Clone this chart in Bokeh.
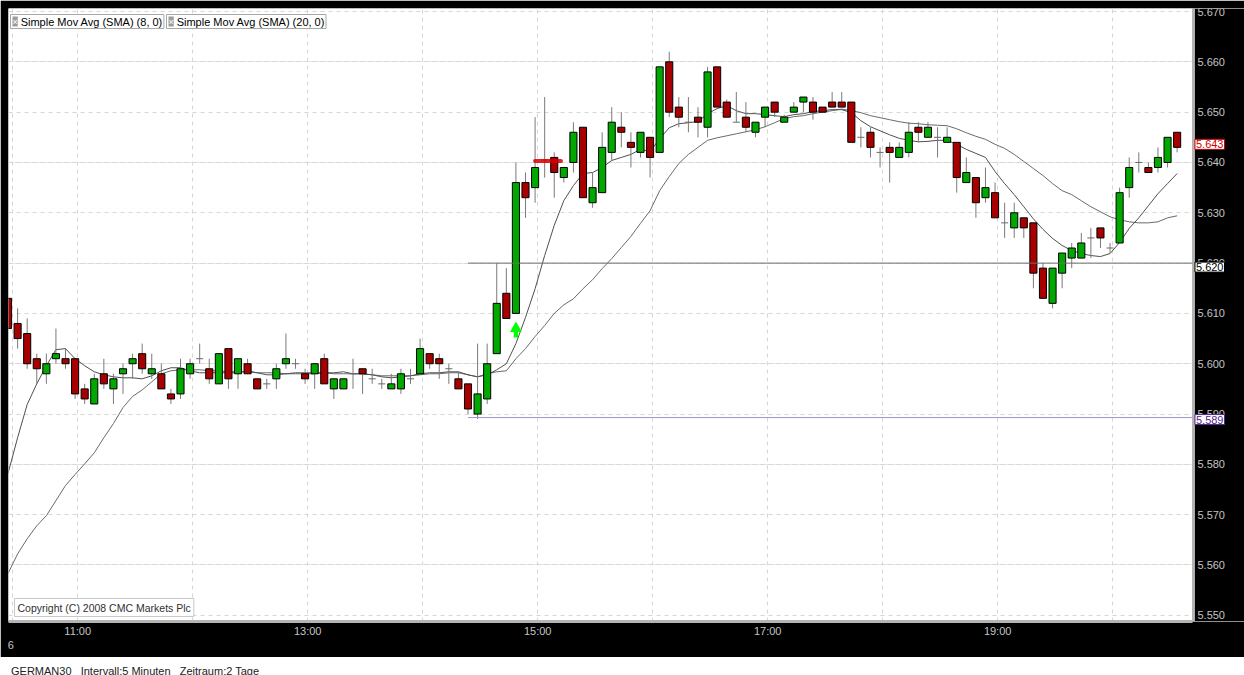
import numpy as np
from bokeh.plotting import figure
from bokeh.models import (ColumnDataSource, FixedTicker, CustomJSTickFormatter, Label,
                          Range1d, Div, Grid, BoxAnnotation)
from bokeh.layouts import column
from bokeh.embed import file_html
from bokeh.resources import INLINE

# ---------------- data (GERMAN30, 5-minute candles) ----------------
open_ = [5613, 5608, 5606, 5601, 5598, 5601, 5601, 5601, 5595, 5592,
         5598, 5595, 5598, 5600, 5602, 5598, 5598, 5594, 5594, 5598,
         5601, 5599, 5596, 5603, 5598, 5600, 5597, 5596, 5597, 5600,
         5600, 5598, 5598, 5601, 5595, 5595, 5598, 5599, 5597, 5596,
         5595, 5595, 5597, 5598, 5602, 5601, 5599, 5597, 5596, 5590,
         5593, 5602, 5614, 5610, 5636, 5635, 5640.5, 5641, 5637, 5640,
         5647, 5632, 5634, 5642, 5647, 5644, 5642, 5645, 5642, 5660,
         5651, 5648, 5649, 5647, 5659, 5652, 5648, 5649, 5646, 5649,
         5652, 5648, 5650, 5652, 5652, 5651, 5652, 5652, 5652, 5645,
         5646, 5642, 5643, 5641, 5642, 5647, 5645, 5645, 5644, 5644,
         5636, 5637, 5633, 5634, 5628, 5627, 5629, 5628, 5619, 5612,
         5618, 5621, 5621, 5625, 5627, 5623, 5624, 5635, 5640, 5639,
         5639, 5640, 5646]
high = [5613, 5611, 5609, 5602, 5602, 5607, 5603, 5601, 5596, 5598,
        5601, 5598, 5600, 5602, 5604, 5602, 5600, 5595, 5601, 5601,
        5604, 5601, 5602, 5603, 5601, 5601, 5597, 5597, 5600, 5606,
        5601, 5599, 5600, 5602, 5597, 5597, 5601, 5599, 5599, 5597,
        5598, 5599, 5599, 5605, 5602, 5602, 5600, 5598.5, 5596, 5604,
        5604, 5620, 5619, 5640, 5638, 5649, 5653, 5642, 5639, 5648,
        5647, 5638, 5646, 5651, 5650, 5646, 5646, 5645, 5659, 5662,
        5653, 5653, 5651, 5659, 5659, 5652.5, 5654, 5652, 5648, 5651,
        5652, 5649.5, 5652, 5653, 5653, 5651, 5654, 5654, 5652, 5647,
        5647, 5643, 5644, 5644, 5648, 5648, 5648, 5647, 5647, 5644,
        5641, 5637, 5639, 5636, 5632, 5632, 5629, 5628, 5620, 5619,
        5622, 5624, 5626, 5627, 5627, 5624, 5635, 5641, 5642, 5640,
        5643, 5645, 5646]
low = [5607, 5603, 5599, 5596, 5596, 5600, 5599, 5593, 5592, 5592,
       5595, 5592, 5594, 5597, 5598, 5597, 5595, 5592, 5593, 5597,
       5600, 5596, 5596, 5595, 5595, 5598, 5595, 5595, 5595, 5599,
       5599, 5596, 5595, 5596, 5593, 5595, 5595, 5594, 5596, 5595,
       5595, 5594, 5596, 5598, 5599, 5597, 5596, 5595, 5590, 5589,
       5592, 5602, 5609, 5610, 5629, 5632, 5637, 5633, 5636, 5638,
       5633, 5631, 5634, 5640.5, 5643, 5639, 5641, 5637, 5642, 5649,
       5647, 5646, 5645, 5645, 5651, 5649, 5648, 5646, 5645, 5647,
       5649, 5648, 5650, 5650, 5648.5, 5650, 5651, 5651, 5644, 5643,
       5641, 5639, 5636, 5641, 5641, 5644, 5645, 5641, 5644, 5634,
       5636, 5629, 5632, 5629, 5625, 5625, 5625, 5615, 5613, 5611,
       5615, 5619, 5621, 5621, 5623, 5622, 5624, 5633, 5638, 5638,
       5638, 5639, 5642]
close = [5607, 5605, 5600, 5599, 5600, 5602, 5600, 5594, 5593, 5597,
         5596, 5597, 5599, 5601, 5599, 5599, 5595, 5593, 5599, 5600,
         5601, 5597, 5602, 5597, 5601, 5598, 5595, 5596, 5599, 5601,
         5600, 5597, 5600, 5596, 5597, 5597, 5598, 5598, 5597, 5596,
         5596, 5598, 5597, 5603, 5600, 5600, 5599, 5595, 5591, 5594,
         5600, 5612, 5609, 5636, 5633, 5639, 5640.5, 5638, 5639, 5646,
         5633, 5635, 5643, 5648, 5646, 5643, 5646, 5641, 5659, 5650,
         5649, 5648, 5648, 5658, 5651, 5649, 5648, 5647, 5648, 5651,
         5650, 5649, 5651, 5653, 5650, 5650, 5651, 5651, 5644, 5645,
         5643, 5642, 5642, 5643, 5646, 5646, 5647, 5645, 5645, 5637,
         5638, 5632, 5635, 5629, 5628, 5630, 5627, 5618, 5613, 5619,
         5622, 5623, 5624, 5625, 5625, 5623, 5634, 5639, 5640, 5638,
         5641, 5645, 5643]

sma8 = [5578.2, 5585.3, 5591.9, 5596.0, 5599.6, 5602.8, 5603.0, 5601.0, 5599.6, 5598.4,
        5597.8, 5597.4, 5597.2, 5597.2, 5597.0, 5597.6, 5598.6, 5599.2, 5599.2, 5598.6,
        5598.2, 5598.2, 5598.2, 5598.2, 5598.2, 5598.6, 5598.2, 5597.8, 5597.8, 5598.0,
        5598.2, 5598.2, 5598.2, 5598.2, 5598.2, 5598.4, 5598.0, 5598.0, 5597.8, 5597.4,
        5597.2, 5597.4, 5597.6, 5598.0, 5598.2, 5598.2, 5598.4, 5598.4, 5597.8, 5597.4,
        5597.8, 5598.8, 5600.0, 5604.0, 5609.2, 5614.9, 5621.5, 5627.5, 5632.4, 5635.4,
        5637.8, 5638.0, 5639.0, 5640.4, 5641.0, 5641.6, 5642.6, 5642.2, 5644.7, 5646.9,
        5647.7, 5647.9, 5648.1, 5649.7, 5650.7, 5651.3, 5650.3, 5649.7, 5649.7, 5649.5,
        5649.3, 5649.1, 5649.5, 5649.7, 5650.1, 5650.3, 5650.5, 5650.5, 5649.9, 5648.3,
        5647.1, 5646.3, 5645.5, 5644.8, 5644.4, 5644.1, 5644.2, 5644.4, 5644.4, 5643.6,
        5642.6, 5641.8, 5641.0, 5638.2, 5635.8, 5633.6, 5631.2, 5628.8, 5626.7, 5624.9,
        5623.5, 5622.5, 5621.9, 5621.5, 5621.3, 5621.9, 5624.1, 5626.9, 5629.0, 5631.4,
        5633.8, 5635.8, 5637.8]
sma20 = [5558.3, 5562.2, 5565.2, 5567.8, 5569.8, 5572.8, 5575.8, 5578.0, 5580.1, 5582.3,
         5585.3, 5588.1, 5591.3, 5593.5, 5594.8, 5596.4, 5598.0, 5598.6, 5598.8, 5598.8,
         5598.8, 5598.6, 5598.6, 5598.4, 5598.4, 5598.4, 5598.2, 5598.2, 5598.2, 5598.0,
         5598.0, 5598.0, 5598.0, 5598.2, 5598.0, 5598.0, 5598.0, 5598.0, 5597.8, 5597.6,
         5597.6, 5597.6, 5597.6, 5597.8, 5598.0, 5598.0, 5598.2, 5598.2, 5597.8, 5597.4,
         5598.0, 5598.4, 5598.6, 5601.0, 5603.0, 5605.4, 5607.6, 5610.0, 5611.7, 5612.9,
         5614.9, 5616.7, 5618.9, 5620.9, 5623.1, 5625.3, 5627.9, 5630.4, 5634.4, 5637.2,
         5639.8, 5641.6, 5643.0, 5644.4, 5644.9, 5645.3, 5645.7, 5646.1, 5646.5, 5647.1,
         5647.9, 5648.7, 5649.1, 5649.3, 5649.7, 5650.0, 5650.3, 5650.6, 5650.3, 5649.9,
         5649.3, 5648.9, 5648.5, 5648.1, 5647.8, 5647.7, 5647.5, 5647.4, 5647.3, 5646.7,
         5645.9, 5645.2, 5644.6, 5643.6, 5642.8, 5641.6, 5640.2, 5638.8, 5637.4, 5635.8,
         5634.4, 5633.6, 5632.4, 5631.2, 5630.2, 5629.2, 5628.6, 5628.2, 5628.0, 5628.0,
         5628.2, 5629.0, 5629.4]

price_ticks = [5550, 5560, 5570, 5580, 5590, 5600, 5610, 5620, 5630, 5640, 5650, 5660, 5670]
price_tick_labels = ["5.550", "5.560", "5.570", "5.580", "5.590", "5.600", "5.610",
                     "5.620", "5.630", "5.640", "5.650", "5.660", "5.670"]
time_labels = ["11:00", "13:00", "15:00", "17:00", "19:00", "\n6"]
time_positions = [7.27, 31.27, 55.27, 79.27, 103.27, 0.3]
grid_positions = [0.47, 7.27, 19.27, 31.27, 43.27, 55.27, 67.27, 79.27, 91.27, 103.27, 115.27]

last_price = 5643
resistance = 5620
support = 5589.3
levels_from = 48          # candle index where the drawn levels start
marker_from, marker_to, marker_price = 55.0, 57.7, 5640.3
signal_idx, signal_low, signal_high = 53, 5605.2, 5608.0

# ---------------- derived ----------------
n = len(close)
idx = np.arange(n, dtype=float)
o = np.array(open_, float); c = np.array(close, float)
h = np.array(high, float); l = np.array(low, float)
doji = o == c
body = ~doji
UP, DN = "#00a800", "#a80000"

X0, EDGE, X1 = 0.05, 123.6, 129.03      # plot area ends at EDGE, price scale beyond
Y0, Y1 = 5548.77, 5670.6
FONT = "Liberation Sans"

p = figure(width=1244, height=657, x_range=Range1d(X0, X1), y_range=Range1d(Y0, Y1),
           y_axis_location=None, toolbar_location=None, output_backend="svg",
           min_border_left=8, min_border_top=8, min_border_right=0, min_border_bottom=36,
           background_fill_color="white", border_fill_color="black",
           outline_line_color=None)

# time axis
xa = p.xaxis[0]
xa.bounds = (X0, EDGE)
xa.ticker = FixedTicker(ticks=time_positions)
xa.formatter = CustomJSTickFormatter(args=dict(pos=time_positions, labels=time_labels), code="""
let b = 0;
for (let k = 0; k < pos.length; k++) { if (Math.abs(pos[k]-tick) < Math.abs(pos[b]-tick)) b = k; }
return labels[b];""")
xa.major_tick_line_color = None
xa.minor_tick_line_color = None
xa.major_tick_out = 0
xa.major_tick_in = 0
xa.minor_tick_out = 0
xa.axis_line_color = "#b4b4b4"
xa.axis_line_width = 3
xa.major_label_text_color = "#c4c4c4"
xa.major_label_text_font_size = "11px"
xa.major_label_text_font = FONT
xa.major_label_standoff = 3

# grids
p.xgrid.ticker = FixedTicker(ticks=grid_positions)
ygrid = Grid(dimension=1, ticker=FixedTicker(ticks=price_ticks))
p.add_layout(ygrid)
for g in (p.xgrid[0], ygrid):
    g.grid_line_color = "#d6d6d6"
    g.grid_line_dash = "4 4"
    g.grid_line_width = 1

# price scale panel on the right (black), with its separator bar
p.add_layout(BoxAnnotation(left=EDGE, fill_color="black", fill_alpha=1.0,
                           line_color=None, level="underlay"))
p.add_layout(BoxAnnotation(left=EDGE - 0.05, right=EDGE + 0.26, fill_color="#b4b4b4",
                           fill_alpha=1.0, line_color=None, level="underlay"))

# moving averages
p.line(idx, sma20, line_color="#6a6a6a", line_width=1)
p.line(idx, sma8, line_color="#505050", line_width=1)

# candles
p.segment(idx, l, idx, h, line_color="#7a7a7a", line_width=1)
p.segment(idx[doji] - 0.37, o[doji], idx[doji] + 0.37, o[doji], line_color="#6a6a6a", line_width=1)
src = ColumnDataSource(dict(
    left=idx[body] - 0.37, right=idx[body] + 0.37,
    top=np.maximum(o, c)[body], bottom=np.minimum(o, c)[body],
    color=np.where(c > o, UP, DN)[body]))
p.quad(left="left", right="right", top="top", bottom="bottom", source=src,
       fill_color="color", line_color="black", line_width=1)

# horizontal levels
p.segment([levels_from], [resistance], [EDGE], [resistance], line_color="#707070", line_width=1)
p.segment([levels_from], [support], [EDGE], [support], line_color="#a394cc", line_width=1)

# red drawn marker
p.segment([marker_from], [marker_price], [marker_to], [marker_price], line_color="#d40000",
          line_width=4, line_alpha=0.85, line_cap="round")

# buy signal arrow
p.vbar(x=[signal_idx], bottom=[signal_low], top=[signal_low + 1.6], width=0.45,
       fill_color="#00ff00", line_color=None)
p.scatter(x=[signal_idx], y=[signal_high - 1.0], marker="triangle", size=12,
          fill_color="#00ff00", line_color=None)

# price scale labels
p.text(x=[EDGE] * len(price_ticks), y=price_ticks, text=price_tick_labels, x_offset=5,
       text_color="#c4c4c4", text_font_size="11px", text_font={"value": FONT},
       text_baseline="middle", text_align="left")

# price boxes on the scale
for val, txt, col, yoff in [(last_price, "5.643", "#cc0000", 3),
                            (resistance, "5.620", "#000000", -4),
                            (support, "5.589", "#50288c", -2)]:
    p.add_layout(Label(x=EDGE, y=val, x_offset=2.5, y_offset=yoff,
                       text=txt, text_color=col, text_font_size="11px", text_font=FONT,
                       text_baseline="middle", text_align="left",
                       background_fill_color="white", border_line_color=col, padding=1))

# indicator legend boxes
for xs, txt in [(2, "\u00a0\u00a0\u00a0Simple Mov Avg (SMA) (8, 0)"),
                (158, "\u00a0\u00a0\u00a0Simple Mov Avg (SMA) (20, 0)")]:
    p.add_layout(Label(x=xs, y=607, x_units="screen", y_units="screen", text=txt,
                       text_font_size="11px", text_font=FONT, text_color="#000000",
                       text_baseline="top", text_align="left",
                       background_fill_color="white", border_line_color="#a8a8a8", padding=1))
    p.add_layout(Label(x=xs + 2, y=605, x_units="screen", y_units="screen", text="\u00d7",
                       text_font_size="9px", text_font=FONT, text_color="white",
                       text_baseline="top", text_align="left",
                       background_fill_color="#9c9c9c", padding=0))

# copyright box
p.add_layout(Label(x=6, y=5, x_units="screen", y_units="screen",
                   text="Copyright (C) 2008 CMC Markets Plc", text_font_size="10.5px",
                   text_font=FONT, text_color="#303030", text_baseline="bottom",
                   background_fill_color="white", border_line_color="#c8c8c8", padding=3))

info = Div(text="GERMAN30&nbsp;&nbsp;&nbsp;Intervall:5 Minuten&nbsp;&nbsp;&nbsp;Zeitraum:2 Tage",
           width=1244, height=18,
           styles={"font-family": "Liberation Sans, Arial", "font-size": "11px",
                   "color": "#222222", "overflow": "hidden", "line-height": "18px",
                   "padding-left": "6px", "background-color": "white"})

layout = column(p, info, spacing=0)
open("out.html", "w").write(file_html(layout, INLINE))
